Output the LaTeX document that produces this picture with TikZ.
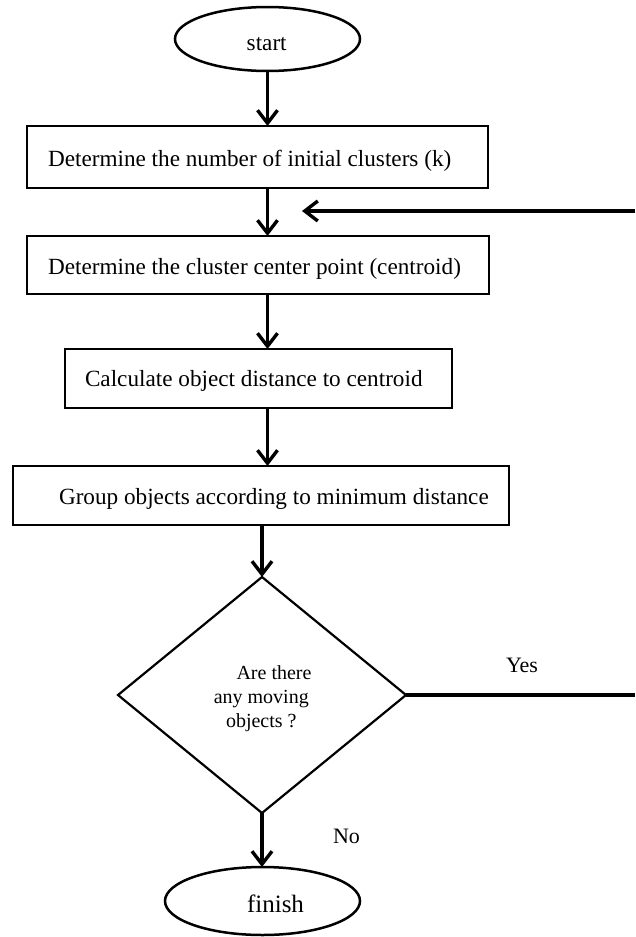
\documentclass[tikz,border=0pt]{standalone}
\usepackage{fontspec}
\setmainfont{Liberation Serif}
\usetikzlibrary{shapes.geometric,arrows.meta,calc}
\tikzset{
  stepbox/.style={draw, line width=2.5pt, rectangle, inner sep=0pt, outer sep=0pt},
  term/.style={draw, line width=2.5pt, ellipse, inner sep=0pt, outer sep=0pt},
  decision/.style={draw, line width=2.2pt, diamond, inner sep=0pt, outer sep=0pt},
  txt/.style={inner sep=0pt, outer sep=0pt, font=\fontsize{23.2}{27}\selectfont},
  qtxt/.style={inner sep=0pt, outer sep=0pt, font=\fontsize{20}{24}\selectfont, anchor=base},
  lbl/.style={inner sep=0pt, outer sep=0pt, font=\fontsize{22}{26}\selectfont, anchor=base west},
  flow/.style={line width=3.4pt, -{Straight Barb[length=13pt,width=20pt]}},
  plain/.style={line width=4pt}
}
\begin{document}
\begin{tikzpicture}[x=1pt,y=-1pt]
\useasboundingbox (0,0) rectangle (635,937);
% shapes
\node[term, minimum width=185pt, minimum height=64pt] (s) at (267.5,39) {};
\node[stepbox, minimum width=461pt, minimum height=62pt] (b1) at (257.5,157) {};
\node[stepbox, minimum width=462pt, minimum height=58pt] (b2) at (258,265) {};
\node[stepbox, minimum width=387pt, minimum height=59pt] (b3) at (258.5,378.5) {};
\node[stepbox, minimum width=496pt, minimum height=59pt] (b4) at (261,495.5) {};
\node[decision, minimum width=288pt, minimum height=236pt] (d) at (262,695) {};
\node[term, minimum width=195pt, minimum height=68pt] (f) at (262.5,901) {};
% texts
\node[txt, anchor=base] (st) at (266.7,50.7) {start};
\node[txt, anchor=base west] (t1) at (48,166.7) {Determine the number of initial clusters (k)};
\node[txt, anchor=base west] (t2) at (48,274) {Determine the cluster center point (centroid)};
\node[txt, anchor=base west] (t3) at (85,386.7) {Calculate object distance to centroid};
\node[txt, anchor=base west] (t4) at (59,504) {Group objects according to minimum distance};
\node[qtxt] (q1) at (274,679) {Are there};
\node[qtxt] (q2) at (261.3,703) {any moving};
\node[qtxt] (q3) at (261.3,727) {objects ?};
\node[inner sep=0pt, outer sep=0pt, font=\fontsize{25}{29}\selectfont, anchor=base] (ft) at (275.5,912) {finish};
\node[lbl] (yes) at (506,672) {Yes};
\node[lbl] (no) at (333,843) {No};
% free ends of the loop
\coordinate (r1) at (635,211);
\coordinate (fb) at (302,211);
\coordinate (r2) at (635,695);
% connectors
\draw[flow] (s.south) -- (s.south |- b1.north);
\draw[flow] (s.south |- b1.south) -- (s.south |- b2.north);
\draw[flow] (s.south |- b2.south) -- (s.south |- b3.north);
\draw[flow] (s.south |- b3.south) -- (s.south |- b4.north);
\draw[flow] (d.north |- b4.south) -- (d.north);
\draw[flow] (d.south) -- (d.south |- f.north);
\draw[plain] (d.east) -- (r2);
\draw[flow] (r1) -- (fb);
\end{tikzpicture}
\end{document}
